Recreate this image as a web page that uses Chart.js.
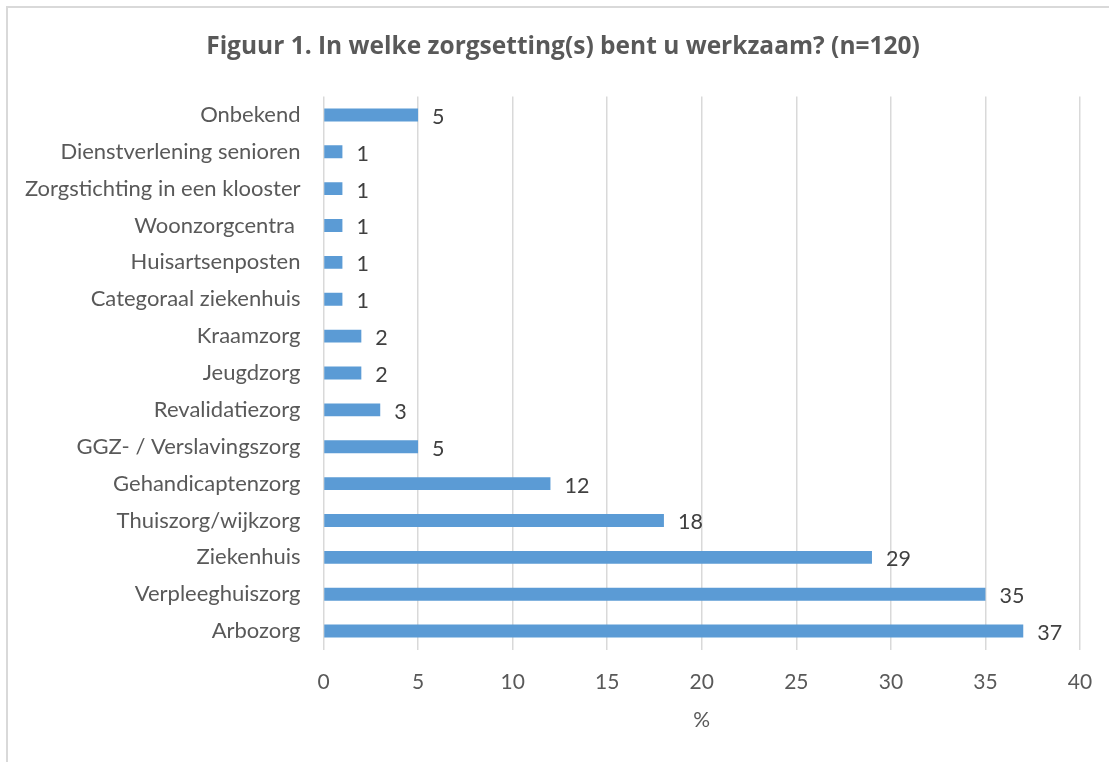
<!DOCTYPE html>
<html>
<head>
<meta charset="utf-8">
<script src="https://cdn.jsdelivr.net/npm/chart.js@4.4.1/dist/chart.umd.min.js"></script>
<style>
  html, body { margin: 0; padding: 0; background: #fff; }
  #wrap { position: relative; width: 1109px; height: 762px; overflow: hidden; }
  #frame { position: absolute; left: 6px; top: 6px; width: 1200px; height: 800px; border: 2px solid #d9d9d9; box-sizing: border-box; pointer-events: none; }
</style>
</head>
<body>
<div id="wrap">
  <canvas id="c" width="1109" height="762"></canvas>
  <div id="frame"></div>
</div>
<script>
const categories = [
  "Onbekend",
  "Dienstverlening senioren",
  "Zorgstichting in een klooster",
  "Woonzorgcentra ",
  "Huisartsenposten",
  "Categoraal ziekenhuis",
  "Kraamzorg",
  "Jeugdzorg",
  "Revalidatiezorg",
  "GGZ- / Verslavingszorg",
  "Gehandicaptenzorg",
  "Thuiszorg/wijkzorg",
  "Ziekenhuis",
  "Verpleeghuiszorg",
  "Arbozorg"
];
const percentages = [5, 1, 1, 1, 1, 1, 2, 2, 3, 5, 12, 18, 29, 35, 37];
const xTicks = [0, 5, 10, 15, 20, 25, 30, 35, 40];
const chartTitle = "Figuur 1. In welke zorgsetting(s) bent u werkzaam? (n=120)";
const xAxisTitle = "%";

const FONT = "Lato, 'Open Sans', sans-serif";
const TITLE_FONT = "'Open Sans', Lato, sans-serif";

const dataLabels = {
  id: 'dataLabels',
  afterDatasetsDraw(chart) {
    const ctx = chart.ctx;
    const meta = chart.getDatasetMeta(0);
    ctx.save();
    ctx.font = "21.5px " + FONT;
    ctx.fillStyle = "#404040";
    ctx.textAlign = "left";
    ctx.textBaseline = "middle";
    meta.data.forEach((bar, i) => {
      ctx.fillText(String(percentages[i]), bar.x + 14, bar.y + 2);
    });
    ctx.restore();
  }
};

const titleDraw = {
  id: 'titleDraw',
  afterDraw(chart) {
    const ctx = chart.ctx;
    ctx.save();
    ctx.font = "bold 24.5px " + TITLE_FONT;
    ctx.fillStyle = "#595959";
    ctx.textAlign = "center";
    ctx.textBaseline = "middle";
    ctx.fillText(chartTitle, 563, 47);
    ctx.restore();
  }
};

new Chart(document.getElementById('c'), {
  type: 'bar',
  data: {
    labels: categories,
    datasets: [{
      data: percentages,
      backgroundColor: '#5b9bd5',
      borderWidth: 0,
      barPercentage: 0.7,
      categoryPercentage: 0.5
    }]
  },
  options: {
    indexAxis: 'y',
    responsive: false,
    animation: false,
    devicePixelRatio: 1,
    layout: { padding: { left: 0, right: 29, top: 96.5, bottom: 0 } },
    plugins: {
      legend: { display: false },
      tooltip: { enabled: false },
      title: { display: false }
    },
    scales: {
      x: {
        min: 0, max: 40,
        afterBuildTicks(scale) { scale.ticks = xTicks.map(v => ({ value: v })); },
        afterFit(scale) { scale.height = 762 - 649.5; scale.paddingLeft = 0; scale.paddingRight = 0; },
        grid: { color: '#d9d9d9', lineWidth: 1.5, drawTicks: false },
        border: { display: false },
        ticks: { color: '#595959', font: { family: FONT, size: 21, lineHeight: 1.2 }, padding: 20 },
        title: {
          display: true, text: xAxisTitle, color: '#595959',
          font: { family: FONT, size: 21, lineHeight: 1.2 },
          padding: 29
        }
      },
      y: {
        afterFit(scale) { scale.width = 323.5; scale.paddingTop = 0; scale.paddingBottom = 0; },
        grid: { display: false, drawTicks: false },
        border: { display: false },
        ticks: { color: '#595959', font: { family: FONT, size: 22 }, padding: 23, autoSkip: false }
      }
    }
  },
  plugins: [dataLabels, titleDraw]
});
</script>
</body>
</html>
